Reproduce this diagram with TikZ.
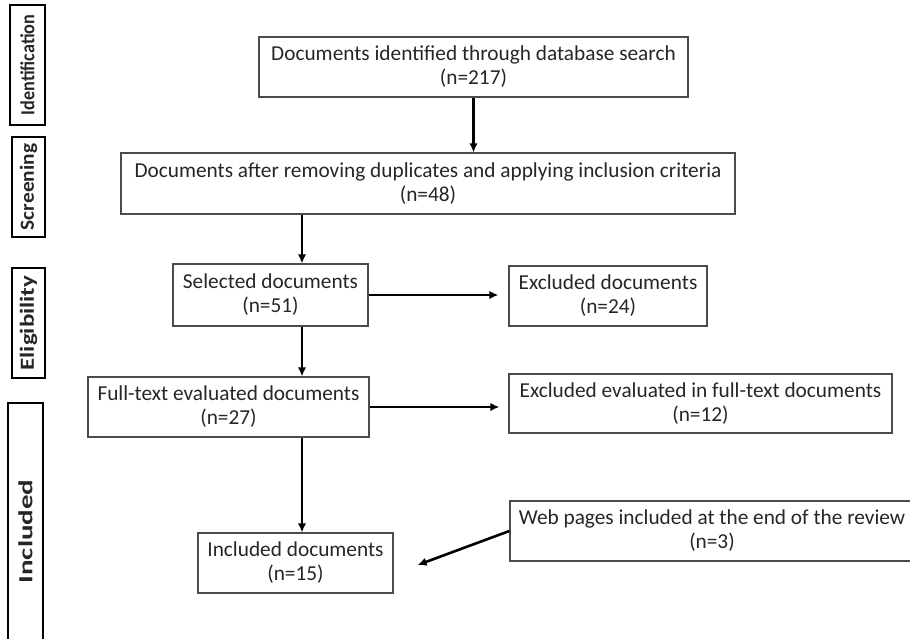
\documentclass[tikz,border=0pt]{standalone}
\usepackage{fontspec}
\setmainfont{Carlito}
\usetikzlibrary{arrows.meta,positioning,calc}

\begin{document}
\begin{tikzpicture}[x=1pt,y=-1pt,
  every node/.append style={align=center,draw=black!70,line width=1.3pt,inner sep=0pt,
    text=black!85,font=\fontsize{21.3}{24}\selectfont},
  phase/.style={draw=black,rotate=90,font=\bfseries\fontsize{20}{20}\selectfont},
  flow/.style={-{Latex[length=9pt,width=8.5pt]},line width=2.6pt}]
\useasboundingbox (0,0) rectangle (910,638);
% phases on the left
\node[phase,minimum width=120,minimum height=35] (ident)  at (27.5,65)    {\scalebox{0.91}[1]{Identification}};
\node[phase,minimum width=100,minimum height=33] (screen) at (28.5,187)   {\scalebox{1.07}[1]{Screening}};
\node[phase,minimum width=110,minimum height=33] (elig)   at (28.5,323)   {\scalebox{1.25}[1]{Eligibility}};
\node[phase,minimum width=257,minimum height=35] (incl)   at (25.5,531.5) {\scalebox{1.45}[1]{Included}};
% flow boxes
\node[minimum width=429,minimum height=60] (found)    at (473.5,67)  {Documents identified through database search\\(n=217)};
\node[minimum width=614,minimum height=61] (dedup)    at (428,183.5) {Documents after removing duplicates and applying inclusion criteria\\(n=48)};
\node[minimum width=195,minimum height=62] (select)   at (270.5,295) {Selected documents\\(n=51)};
\node[minimum width=198,minimum height=60] (excl1)    at (608,296)   {Excluded documents\\(n=24)};
\node[minimum width=281,minimum height=60] (fulltext) at (228.5,407) {Full-text evaluated documents\\(n=27)};
\node[minimum width=383,minimum height=59] (excl2)    at (700.5,403.5) {Excluded evaluated in full-text documents\\(n=12)};
\node[minimum width=195,minimum height=60] (final)    at (295.5,563) {Included documents\\(n=15)};
\node[minimum width=404,minimum height=60] (web)      at (712,531)   {Web pages included at the end of the review\\(n=3)};
\coordinate (trunk) at (302,0);
% connectors
\draw[flow] (found.south) -- (found.south |- dedup.north);
\draw[flow] (dedup.south -| trunk) -- (select.north -| trunk);
\draw[flow] (select.south -| trunk) -- (fulltext.north -| trunk);
\draw[flow] (fulltext.south -| trunk) -- (final.north -| trunk);
\draw[flow,shorten >=10pt] (select.east) -- (select.east -| excl1.west);
\draw[flow,shorten >=9pt] (fulltext.east) -- (fulltext.east -| excl2.west);
\draw[flow] (web.west) -- ($(final.east)+(24,2)$);
\end{tikzpicture}
\end{document}
